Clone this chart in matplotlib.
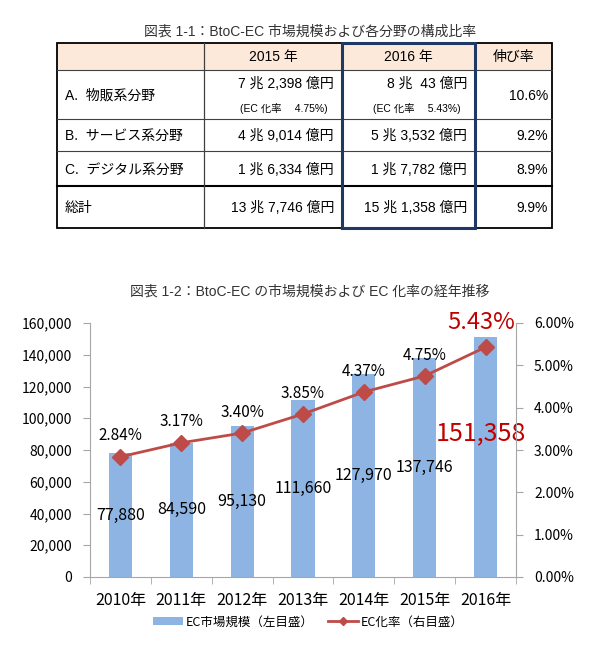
import matplotlib
matplotlib.use("Agg")
import matplotlib.pyplot as plt
from matplotlib.patches import Rectangle
from matplotlib.ticker import FuncFormatter, MultipleLocator
from matplotlib.lines import Line2D

plt.rcParams['font.family'] = ['Noto Sans CJK JP', 'DejaVu Sans']
fuenteTabla = ['Liberation Sans', 'Noto Sans CJK JP', 'DejaVu Sans']

# ---- datos de la tabla 1-1
tablaTitulo = "図表 1-1：BtoC-EC 市場規模および各分野の構成比率"
encabezados = ["", "2015 年", "2016 年", "伸び率"]
filas = ["A.  物販系分野", "B.  サービス系分野", "C.  デジタル系分野", "総計"]
valores2015 = ["7 兆 2,398 億円", "4 兆 9,014 億円", "1 兆 6,334 億円", "13 兆 7,746 億円"]
valores2016 = ["8 兆  43 億円", "5 兆 3,532 億円", "1 兆 7,782 億円", "15 兆 1,358 億円"]
notas2015 = "(EC 化率　 4.75%)"
notas2016 = "(EC 化率　 5.43%)"
crecimiento = ["10.6%", "9.2%", "8.9%", "9.9%"]

# ---- datos del grafico 1-2
graficoTitulo = "図表 1-2：BtoC-EC の市場規模および EC 化率の経年推移"
anios = ["2010年", "2011年", "2012年", "2013年", "2014年", "2015年", "2016年"]
mercado = [77880, 84590, 95130, 111660, 127970, 137746, 151358]
tasaEC = [2.84, 3.17, 3.40, 3.85, 4.37, 4.75, 5.43]

azul = "#8DB4E2"
rojo = "#BE4B48"
rojoTexto = "#C00000"
gris = "#A6A6A6"

fig = plt.figure(figsize=(6, 6.7), dpi=100)

# ---------- tabla (coordenadas en pixeles)
tab = fig.add_axes([0, 0, 1, 1])
tab.set_xlim(0, 600)
tab.set_ylim(670, 0)
tab.axis("off")

colX = [57, 204, 342, 475, 552]
filaY = [43, 70, 119, 151, 186, 228]
tam = 10

tab.text(310, 32, tablaTitulo, ha="center", va="center", fontsize=10, color="#333333",
         family=fuenteTabla)
tab.add_patch(Rectangle((colX[0], filaY[0]), colX[-1] - colX[0], filaY[1] - filaY[0],
                        facecolor="#FDE9D9", edgecolor="none"))
for y in filaY[1:-1]:
    if y == filaY[4]:
        tab.plot([colX[0], colX[-1]], [y, y], color="black", lw=1.5)
    else:
        tab.plot([colX[0], colX[-1]], [y, y], color="#404040", lw=0.8)
for x in colX[1:-1]:
    tab.plot([x, x], [filaY[0], filaY[-1]], color="#404040", lw=0.9)
tab.add_patch(Rectangle((colX[0], filaY[0]), colX[-1] - colX[0], filaY[-1] - filaY[0],
                        facecolor="none", edgecolor="black", lw=1.3))
tab.add_patch(Rectangle((colX[2], filaY[0]), colX[3] - colX[2], filaY[-1] - filaY[0],
                        facecolor="none", edgecolor="#1F3864", lw=2.2, zorder=5))

for i in range(1, 4):
    tab.text((colX[i] + colX[i + 1]) / 2, (filaY[0] + filaY[1]) / 2 + 1, encabezados[i],
             ha="center", va="center", fontsize=tam, family=fuenteTabla)

for i in range(4):
    yc = (filaY[i + 1] + filaY[i + 2]) / 2 + 1
    tab.text(colX[0] + 8, yc, filas[i], ha="left", va="center", fontsize=tam, family=fuenteTabla)
    if i == 0:
        tab.text(colX[2] - 8, filaY[1] + 14, valores2015[i], ha="right", va="center",
                 fontsize=tam, family=fuenteTabla)
        tab.text(colX[3] - 8, filaY[1] + 14, valores2016[i], ha="right", va="center",
                 fontsize=tam, family=fuenteTabla)
        tab.text(colX[2] - 14, filaY[1] + 38, notas2015, ha="right", va="center",
                 fontsize=7.5, family=fuenteTabla)
        tab.text(colX[3] - 14, filaY[1] + 38, notas2016, ha="right", va="center",
                 fontsize=7.5, family=fuenteTabla)
    else:
        tab.text(colX[2] - 8, yc, valores2015[i], ha="right", va="center",
                 fontsize=tam, family=fuenteTabla)
        tab.text(colX[3] - 8, yc, valores2016[i], ha="right", va="center",
                 fontsize=tam, family=fuenteTabla)
    tab.text(colX[4] - 4, yc, crecimiento[i], ha="right", va="center", fontsize=tam,
             family=fuenteTabla)

tab.text(310, 292, graficoTitulo, ha="center", va="center", fontsize=10, color="#333333",
         family=fuenteTabla)

# ---------- grafico de barras + linea
ax = fig.add_axes([90 / 600, 1 - 577 / 670, 426 / 600, 254 / 670])
pos = list(range(len(anios)))
ax.bar(pos, mercado, width=0.38, color=azul, zorder=1)
ax.set_xlim(-0.5, len(anios) - 0.5)
ax.set_ylim(0, 160000)
ax.yaxis.set_major_locator(MultipleLocator(20000))
ax.yaxis.set_major_formatter(FuncFormatter(lambda v, p: "{:,.0f}".format(v)))
ax.set_xticks(pos)
ax.set_xticklabels(anios, fontsize=11.5)
ax.set_xticks([p + 0.5 for p in pos[:-1]] + [-0.5, len(anios) - 0.5], minor=True)
ax.tick_params(axis="x", which="major", length=0, pad=11)
ax.tick_params(axis="x", which="minor", length=5, color=gris)
ax.tick_params(axis="y", labelsize=10, length=5, color=gris, pad=8)
for lado in ["top", "right"]:
    ax.spines[lado].set_visible(False)
ax.spines["left"].set_color(gris)
ax.spines["bottom"].set_color(gris)

for i, v in enumerate(mercado[:-1]):
    ax.text(i, v / 2, "{:,}".format(v), ha="center", va="center", fontsize=11.5)
ax.text(len(mercado) - 1 - 0.07, 90700, "{:,}".format(mercado[-1]), ha="center", va="center",
        fontsize=18, color=rojoTexto)

ax2 = ax.twinx()
ax2.plot(pos, tasaEC, color=rojo, lw=2, marker="D", markersize=8, zorder=3)
ax2.set_ylim(0, 6)
ax2.yaxis.set_major_locator(MultipleLocator(1))
ax2.yaxis.set_major_formatter(FuncFormatter(lambda v, p: "{:.2f}%".format(v)))
ax2.tick_params(axis="y", labelsize=10, length=5, color=gris, pad=8)
for lado in ["top", "left", "bottom"]:
    ax2.spines[lado].set_visible(False)
ax2.spines["right"].set_color(gris)

for i, t in enumerate(tasaEC[:-1]):
    ax2.annotate("{:.2f}%".format(t), (i, t), xytext=(0, 15), textcoords="offset points",
                 ha="center", va="center", fontsize=11)
ax2.annotate("{:.2f}%".format(tasaEC[-1]), (len(tasaEC) - 1, tasaEC[-1]), xytext=(-3, 18),
             textcoords="offset points", ha="center", va="center", fontsize=17, color=rojoTexto)

manejadores = [Rectangle((0, 0), 1, 1, facecolor=azul),
               Line2D([0], [0], color=rojo, lw=2, marker="D", markersize=4)]
fig.legend(manejadores, ["EC市場規模（左目盛）", "EC化率（右目盛）"], loc="center",
           bbox_to_anchor=(0.514, 1 - 622 / 670), ncol=2, frameon=False, fontsize=9,
           handlelength=2.4, handleheight=0.6, columnspacing=1.2, handletextpad=0.2)

fig.savefig("out.png", dpi=100)
